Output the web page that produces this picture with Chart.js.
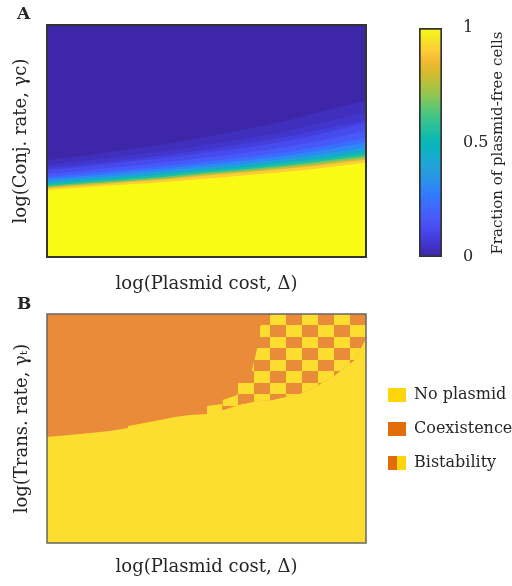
<!DOCTYPE html>
<html>
<head>
<meta charset="utf-8">
<title>Plasmid maps</title>
<script src="https://cdn.jsdelivr.net/npm/chart.js@4.4.1/dist/chart.umd.min.js"></script>
<style>
  html, body { margin: 0; padding: 0; background: #fff; }
  body { position: relative; width: 512px; height: 586px; overflow: hidden; }
  canvas { position: absolute; }
  #mapA { left: 0; top: 0; }
  #bar { left: 380px; top: 0; }
  #mapB { left: 0; top: 290px; }
</style>
</head>
<body>
<canvas id="mapA" width="512" height="298"></canvas>
<canvas id="bar" width="132" height="298"></canvas>
<canvas id="mapB" width="512" height="296"></canvas>
<script>
// ---- panel A: isolines of the plasmid-free fraction (axes run 0..20) ----
const costX = [0, 2.5, 5, 7.5, 10, 12.5, 15, 17.5, 20];
const isoLevels = [0.95, 0.85, 0.72, 0.6, 0.5, 0.42, 0.35, 0.27, 0.2, 0.14, 0.1, 0.07, 0.04, 0.02];
const iso95 = [5.78, 6.01, 6.24, 6.48, 6.76, 7.04, 7.34, 7.71, 8.15];
const iso85 = [5.95, 6.18, 6.46, 6.70, 7.02, 7.30, 7.60, 7.97, 8.41];
const iso72 = [6.04, 6.31, 6.54, 6.82, 7.15, 7.43, 7.77, 8.14, 8.58];
const iso60 = [6.12, 6.40, 6.67, 6.95, 7.28, 7.56, 7.90, 8.31, 8.75];
const iso50 = [6.30, 6.57, 6.84, 7.13, 7.45, 7.73, 8.12, 8.53, 9.01];
const iso42 = [6.43, 6.70, 6.97, 7.26, 7.58, 7.90, 8.29, 8.70, 9.23];
const iso35 = [6.56, 6.83, 7.10, 7.43, 7.75, 8.07, 8.46, 8.92, 9.44];
const iso27 = [6.73, 7.00, 7.32, 7.64, 7.97, 8.33, 8.76, 9.26, 9.87];
const iso20 = [6.90, 7.22, 7.53, 7.86, 8.23, 8.59, 9.06, 9.61, 10.31];
const iso14 = [7.16, 7.48, 7.83, 8.16, 8.57, 8.98, 9.50, 10.12, 10.91];
const iso10 = [7.50, 7.82, 8.22, 8.55, 9.00, 9.45, 10.01, 10.73, 11.60];
const iso07 = [7.68, 7.99, 8.40, 8.81, 9.26, 9.80, 10.36, 11.07, 11.86];
const iso04 = [7.94, 8.34, 8.74, 9.15, 9.69, 10.23, 10.87, 11.68, 12.46];
const iso02 = [8.37, 8.77, 9.26, 9.76, 10.38, 11.01, 11.74, 12.62, 13.49];
const barTicks = [0, 0.5, 1];

// ---- panel B: region boundaries ----
const edgeX = [0, 2.07, 3.95, 5.08, 5.08, 7.08, 8.03, 8.97, 10.03, 10.03, 10.97];
const edgeY = [9.26, 9.52, 9.78, 10.04, 10.22, 10.74, 11.0, 11.18, 11.27, 11.97, 12.14];
const bistX = [11.0, 11.9, 11.95, 12.8, 12.85, 13.35, 13.36, 14.09, 16.0, 17.0, 18.0, 19.3, 20.0];
const bistLow = [11.6, 12.0, 12.05, 12.3, 12.3, 12.4, 12.4, 12.5, 13.1, 13.8, 14.6, 16.0, 17.9];
const bistHigh = [12.5, 12.9, 13.97, 13.97, 15.1, 18.0, 18.9, 20, 20, 20, 20, 20, 20];
const legendNames = ['No plasmid', 'Coexistence', 'Bistability'];

const SERIF = '"DejaVu Serif", "Liberation Serif", serif';
const INK = '#262626';
const MAP_YELLOW = '#FDDD2F';
const MAP_ORANGE = '#E98B38';
const KEY_YELLOW = '#FFD60A';
const KEY_ORANGE = '#E36C0A';
const CHECKER = 20; // cells per side of the bistability checkerboard

// parula colormap
const PARULA = [
  [0.00, [62, 38, 168]], [0.05, [65, 51, 201]], [0.10, [69, 66, 229]],
  [0.14, [72, 81, 244]], [0.19, [70, 95, 252]], [0.24, [57, 112, 254]],
  [0.29, [46, 129, 251]], [0.33, [43, 145, 237]], [0.38, [36, 159, 219]],
  [0.43, [23, 170, 208]], [0.48, [8, 180, 192]], [0.52, [14, 187, 177]],
  [0.57, [41, 192, 154]], [0.62, [71, 197, 132]], [0.67, [110, 199, 104]],
  [0.71, [148, 197, 79]], [0.76, [183, 193, 59]], [0.81, [216, 188, 45]],
  [0.86, [244, 187, 52]], [0.90, [254, 204, 55]], [0.95, [245, 228, 38]],
  [1.00, [249, 251, 21]]
];
function parula(v) {
  for (let i = 1; i < PARULA.length; i++) {
    const [p1, c1] = PARULA[i], [p0, c0] = PARULA[i - 1];
    if (v <= p1) {
      const t = (v - p0) / (p1 - p0);
      return 'rgb(' + c0.map((c, k) => Math.round(c + (c1[k] - c) * t)).join(',') + ')';
    }
  }
  return 'rgb(249,251,21)';
}

const pts = (xs, ys) => xs.map((x, i) => ({ x, y: ys[i] }));

// background, frame and panel letter
const frame = {
  id: 'frame',
  beforeDraw(chart, args, o) {
    const a = chart.chartArea, ctx = chart.ctx;
    ctx.save();
    ctx.fillStyle = o.bg;
    ctx.fillRect(a.left, a.top, a.width, a.height);
    ctx.restore();
  },
  afterDatasetsDraw(chart, args, o) {
    const a = chart.chartArea, ctx = chart.ctx;
    ctx.save();
    ctx.strokeStyle = o.border;
    ctx.lineWidth = o.borderWidth;
    ctx.strokeRect(a.left, a.top, a.width, a.height);
    ctx.fillStyle = INK;
    ctx.font = 'bold 17px ' + SERIF;
    ctx.fillText(o.letter, o.letterX, o.letterY);
    ctx.restore();
  }
};

function axis(title, size, pad, horizontal) {
  return {
    type: 'linear', min: 0, max: 20,
    ticks: { display: false }, grid: { display: false }, border: { display: false },
    title: { display: true, text: title, color: INK, font: { family: SERIF, size: 18 }, padding: pad },
    afterFit(s) { if (horizontal) s.height = size; else s.width = size; }
  };
}

// panel A
const isoLines = [iso95, iso85, iso72, iso60, iso50, iso42, iso35, iso27, iso20, iso14, iso10, iso07, iso04, iso02];
new Chart(document.getElementById('mapA'), {
  type: 'line',
  data: {
    datasets: isoLines.map((ys, i) => ({
      data: pts(costX, ys),
      fill: 'start',
      backgroundColor: parula(i === 0 ? 1 : (isoLevels[i] + isoLevels[i - 1]) / 2),
      borderWidth: 0, pointRadius: 0, cubicInterpolationMode: 'monotone'
    }))
  },
  options: {
    responsive: false, animation: false, events: [],
    layout: { padding: { top: 25, right: 146, bottom: 0, left: 0 } },
    scales: {
      x: axis('log(Plasmid cost, Δ)', 41, { top: 0, bottom: 3 }, true),
      y: axis('log(Conj. rate, γc)', 47, { top: 11, bottom: 0 }, false)
    },
    plugins: {
      legend: { display: false }, tooltip: { enabled: false },
      frame: { bg: parula(0), border: '#333', borderWidth: 2, letter: 'A', letterX: 17, letterY: 19 }
    }
  },
  plugins: [frame]
});

// colour bar
const barLabel = {
  id: 'barLabel',
  afterDraw(chart) {
    const ctx = chart.ctx;
    ctx.save();
    ctx.translate(118, 143);
    ctx.rotate(-Math.PI / 2);
    ctx.fillStyle = INK;
    ctx.font = '15px ' + SERIF;
    ctx.textAlign = 'center';
    ctx.textBaseline = 'middle';
    ctx.fillText('Fraction of plasmid-free cells', 0, 0);
    ctx.restore();
  }
};
new Chart(document.getElementById('bar'), {
  type: 'bar',
  data: {
    labels: [''],
    datasets: [{
      data: [[0, 1]],
      backgroundColor(ctx) {
        const a = ctx.chart.chartArea;
        if (!a) return null;
        const g = ctx.chart.ctx.createLinearGradient(0, a.bottom, 0, a.top);
        PARULA.forEach(([p, c]) => g.addColorStop(p, 'rgb(' + c.join(',') + ')'));
        return g;
      },
      borderColor: '#333', borderWidth: 2, borderSkipped: false,
      barPercentage: 1, categoryPercentage: 1
    }]
  },
  options: {
    responsive: false, animation: false, events: [],
    layout: { padding: { top: 28, left: 39, right: 0, bottom: 41 } },
    scales: {
      x: { display: false },
      y: {
        position: 'right', min: 0, max: 1,
        grid: { display: false }, border: { display: false },
        ticks: { padding: 13, color: INK, font: { family: SERIF, size: 16 }, callback: v => String(v) },
        afterBuildTicks(s) { s.ticks = barTicks.map(v => ({ value: v })); },
        afterFit(s) { s.width = 70; }
      }
    },
    plugins: { legend: { display: false }, tooltip: { enabled: false } }
  },
  plugins: [barLabel]
});

// panel B
let checkerCache = null;
function checker(chart) {
  const a = chart.chartArea;
  if (!a || !chart.scales.x) return MAP_ORANGE;
  const key = [a.left, a.top, a.right, a.bottom].join();
  if (checkerCache && checkerCache.key === key) return checkerCache.pattern;
  const { x, y } = chart.scales;
  const c = document.createElement('canvas');
  c.width = chart.width; c.height = chart.height;
  const g = c.getContext('2d');
  for (let col = 0; col < CHECKER; col++) {
    for (let row = 0; row < CHECKER; row++) {
      const x0 = Math.round(x.getPixelForValue(col)), x1 = Math.round(x.getPixelForValue(col + 1));
      const y0 = Math.round(y.getPixelForValue(row + 1)), y1 = Math.round(y.getPixelForValue(row));
      g.fillStyle = (col + row) % 2 ? MAP_YELLOW : MAP_ORANGE;
      g.fillRect(x0, y0, x1 - x0, y1 - y0);
    }
  }
  checkerCache = { key, pattern: chart.ctx.createPattern(c, 'no-repeat') };
  return checkerCache.pattern;
}

function swatch(colors) {
  const c = document.createElement('canvas');
  c.width = 22; c.height = 14;
  const g = c.getContext('2d');
  const w = 18 / colors.length;
  colors.forEach((col, i) => { g.fillStyle = col; g.fillRect(4 + i * w, 0, w, 14); });
  return c;
}
const swatches = [swatch([KEY_YELLOW]), swatch([KEY_ORANGE]), swatch([KEY_ORANGE, KEY_YELLOW])];

new Chart(document.getElementById('mapB'), {
  type: 'line',
  data: {
    datasets: [
      { label: 'Bistability', data: pts(bistX, bistLow), fill: { target: 1 },
        backgroundColor: ctx => checker(ctx.chart), borderWidth: 0, pointRadius: 0 },
      { label: 'bistability edge', data: pts(bistX, bistHigh), fill: false, borderWidth: 0, pointRadius: 0 },
      { label: 'Coexistence', data: pts(edgeX.concat(bistX), edgeY.concat(bistLow)), fill: 'end',
        backgroundColor: MAP_ORANGE, borderWidth: 0, pointRadius: 0 }
    ]
  },
  options: {
    responsive: false, animation: false, events: [],
    layout: { padding: { top: 24, right: 0, bottom: 0, left: 0 } },
    scales: {
      x: axis('log(Plasmid cost, Δ)', 43, { top: 0, bottom: 8 }, true),
      y: axis('log(Trans. rate, γₜ)', 47, { top: 12, bottom: 0 }, false)
    },
    plugins: {
      tooltip: { enabled: false },
      legend: {
        position: 'right', fullSize: false, maxWidth: 146, onClick: null,
        labels: {
          usePointStyle: true, pointStyleWidth: 22, boxHeight: 14, padding: 18,
          color: INK, font: { family: SERIF, size: 16 },
          generateLabels: () => legendNames.map((text, i) => ({
            text, pointStyle: swatches[i], fontColor: INK, lineWidth: 0,
            strokeStyle: 'rgba(0,0,0,0)', fillStyle: 'rgba(0,0,0,0)', hidden: false, datasetIndex: i
          }))
        }
      },
      frame: { bg: MAP_YELLOW, border: '#666', borderWidth: 1.5, letter: 'B', letterX: 17, letterY: 19 }
    }
  },
  plugins: [frame]
});
</script>
</body>
</html>
